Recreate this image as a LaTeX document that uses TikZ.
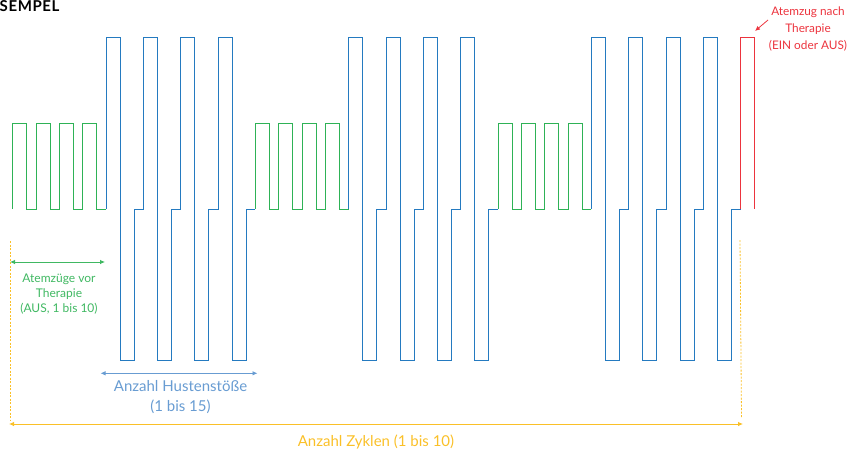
\documentclass[tikz,border=0pt]{standalone}
\usepackage{fontspec}
\setmainfont{Lato}
\usetikzlibrary{arrows.meta}
\definecolor{waveGreen}{RGB}{46,178,86}
\definecolor{waveBlue}{RGB}{36,122,192}
\definecolor{waveRed}{RGB}{236,52,62}
\definecolor{preGreen}{RGB}{64,184,98}
\definecolor{husBlue}{RGB}{104,156,210}
\definecolor{cycYellow}{RGB}{250,192,40}
\begin{document}
\begin{tikzpicture}[x=1pt,y=-1pt,
    green_wave/.style={draw=waveGreen,line width=0.8pt},
    blue_wave/.style={draw=waveBlue,line width=0.8pt},
    red_wave/.style={draw=waveRed,line width=0.8pt},
    span_arrow/.style={line width=0.8pt,{Latex[length=5pt,width=4.5pt]}-{Latex[length=5pt,width=4.5pt]}},
    guide_line/.style={draw=cycYellow,line width=0.8pt,dash pattern=on 2pt off 1.5pt},
    label_node/.style={align=center,inner sep=0pt}]

    \useasboundingbox (0,0) rectangle (858,453);

    \node[anchor=west,inner sep=0pt,font=\bfseries\fontsize{15}{15}\selectfont\addfontfeature{LetterSpace=4}] (title) at (-0.5,6) {SEMPEL};

    \foreach \c in {0,1,2} {
        \draw[green_wave] (12.7+242.67*\c,209) \foreach \k in {1,...,4} {-- ++(0,-86) -- ++(14,0) -- ++(0,86) -- ++(9.33,0)};
        \draw[blue_wave] (106.03+242.67*\c,209) \foreach \k in {1,...,4} {-- ++(0,-172) -- ++(14,0) -- ++(0,323) -- ++(14,0) -- ++(0,-151) -- ++(9.33,0)};
    }
    \draw[red_wave] (740.7,209) -- ++(0,-172) -- ++(14,0) -- ++(0,172);

    \coordinate (pre_l) at (10,262);
    \coordinate (pre_r) at (105,262);
    \draw[span_arrow,draw=preGreen] (pre_l) -- (pre_r);
    \node[label_node,text=preGreen,font=\fontsize{12}{14.7}\selectfont] (pre_text) at (59,294) {Atemzüge vor\\Therapie\\(AUS, 1 bis 10)};

    \coordinate (hus_l) at (100.5,373.3);
    \coordinate (hus_r) at (257.5,373.3);
    \draw[span_arrow,draw=husBlue] (hus_l) -- (hus_r);
    \node[label_node,text=husBlue,font=\fontsize{15}{19.5}\selectfont] (hus_text) at (180.5,397) {Anzahl Hustenstöße\\(1 bis 15)};

    \coordinate (cyc_tl) at (10,241);
    \coordinate (cyc_bl) at (10,421);
    \coordinate (cyc_tr) at (740,240);
    \coordinate (cyc_br) at (741.5,418);
    \draw[guide_line] (cyc_tl) -- (cyc_bl);
    \draw[guide_line] (cyc_tr) -- (cyc_br);
    \coordinate (cyc_l) at (9,424);
    \coordinate (cyc_r) at (743,424);
    \draw[span_arrow,draw=cycYellow] (cyc_l) -- (cyc_r);
    \node[label_node,text=cycYellow,font=\fontsize{15}{19.5}\selectfont] (cyc_text) at (376,441.5) {Anzahl Zyklen (1 bis 10)};

    \node[label_node,text=waveRed,font=\fontsize{11.8}{17}\selectfont] (post_text) at (808,29.5) {Atemzug nach\\Therapie\\(EIN oder AUS)};
    \coordinate (post_a) at (768,20);
    \coordinate (post_b) at (755,31);
    \draw[waveRed,line width=0.8pt,-{Latex[length=5pt,width=4.5pt]}] (post_a) -- (post_b);

\end{tikzpicture}
\end{document}
